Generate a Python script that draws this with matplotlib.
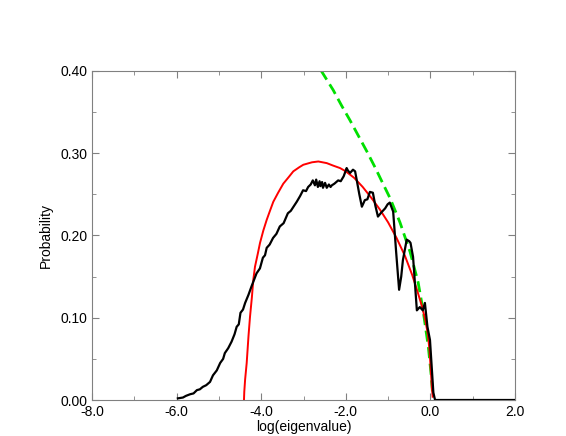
#!/usr/bin/env python3
import matplotlib
matplotlib.use("Agg")
from matplotlib import pyplot as plt
from matplotlib.ticker import MultipleLocator, FormatStrFormatter

plt.rcParams['font.family'] = ['Liberation Sans', 'DejaVu Sans']
plt.rcParams['axes.unicode_minus'] = False

# measured histogram (log eigenvalue, probability)
hist_x = [-5.97, -5.85, -5.78, -5.68, -5.60, -5.52, -5.45, -5.38, -5.30, -5.21,
          -5.14, -5.05, -4.97, -4.90, -4.86, -4.78, -4.70, -4.63, -4.58, -4.53,
          -4.49, -4.43, -4.38, -4.30, -4.23, -4.17, -4.11, -4.03, -3.96, -3.91,
          -3.87, -3.80, -3.72, -3.64, -3.56, -3.47, -3.37, -3.30, -3.16, -3.08,
          -3.01, -2.94, -2.89, -2.83, -2.78, -2.73, -2.70, -2.66, -2.62, -2.60,
          -2.56, -2.54, -2.49, -2.45, -2.40, -2.36, -2.33, -2.27, -2.18, -2.12,
          -2.05, -1.98, -1.95, -1.90, -1.83, -1.78, -1.74, -1.68, -1.62, -1.55,
          -1.49, -1.43, -1.36, -1.30, -1.24, -1.16, -1.07, -1.01, -0.96, -0.88,
          -0.81, -0.74, -0.69, -0.65, -0.56, -0.50, -0.47, -0.41, -0.32, -0.25,
          -0.18, -0.13, -0.07, -0.01, 0.07, 0.11, 2.0]
hist_y = [0.002, 0.003, 0.005, 0.007, 0.008, 0.012, 0.013, 0.016, 0.018, 0.022,
          0.030, 0.036, 0.045, 0.050, 0.057, 0.063, 0.071, 0.080, 0.089, 0.092,
          0.106, 0.110, 0.118, 0.128, 0.138, 0.146, 0.154, 0.160, 0.173, 0.176,
          0.185, 0.189, 0.197, 0.202, 0.211, 0.215, 0.227, 0.230, 0.241, 0.248,
          0.255, 0.254, 0.259, 0.262, 0.267, 0.261, 0.268, 0.259, 0.266, 0.260,
          0.265, 0.258, 0.264, 0.258, 0.262, 0.259, 0.261, 0.263, 0.267, 0.266,
          0.272, 0.282, 0.279, 0.276, 0.280, 0.278, 0.267, 0.250, 0.235, 0.243,
          0.244, 0.253, 0.252, 0.236, 0.223, 0.228, 0.233, 0.238, 0.240, 0.229,
          0.180, 0.134, 0.150, 0.170, 0.195, 0.193, 0.191, 0.174, 0.109, 0.113,
          0.109, 0.118, 0.089, 0.073, 0.009, 0.0, 0.0]

# theoretical density (red)
theo_x = [-4.407, -4.40, -4.38, -4.343, -4.30, -4.265, -4.22, -4.187, -4.147, -4.08,
          -4.028, -3.95, -3.87, -3.80, -3.714, -3.60, -3.478, -3.35, -3.241, -3.10,
          -3.005, -2.80, -2.65, -2.45, -2.30, -2.137, -2.00, -1.80, -1.60, -1.40,
          -1.20, -1.00, -0.80, -0.60, -0.43, -0.30, -0.20, -0.12, -0.06, -0.02,
          0.014, 0.035, 0.054]
theo_y = [0.0, 0.010, 0.025, 0.045, 0.078, 0.101, 0.125, 0.146, 0.162, 0.178,
          0.191, 0.206, 0.219, 0.229, 0.241, 0.252, 0.263, 0.271, 0.278, 0.283,
          0.286, 0.289, 0.290, 0.288, 0.285, 0.282, 0.278, 0.270, 0.259, 0.246,
          0.232, 0.216, 0.197, 0.175, 0.152, 0.131, 0.114, 0.097, 0.080, 0.060,
          0.032, 0.015, 0.004]

# asymptotic curve (green dashed)
asym_x = [-2.59, -2.30, -2.10, -1.90, -1.70, -1.50, -1.30, -1.15, -0.95, -0.72,
          -0.48, -0.29, -0.17, -0.05, 0.01, 0.05]
asym_y = [0.401, 0.377, 0.358, 0.340, 0.321, 0.302, 0.282, 0.266, 0.245, 0.216,
          0.180, 0.143, 0.108, 0.065, 0.035, 0.009]

fig = plt.figure(figsize=(5.66, 4.36), dpi=100)
ax = fig.add_axes([92/566, 36/436, 423/566, 329/436])

ax.plot(asym_x, asym_y, color='#00e000', lw=2, dashes=(4, 2), zorder=2)
ax.plot(theo_x, theo_y, color='#ff0000', lw=1.4, zorder=3)
ax.plot(hist_x, hist_y, color='black', lw=1.6, zorder=4)

ax.set_xlim(-8, 2)
ax.set_ylim(0, 0.4)
ax.xaxis.set_major_locator(MultipleLocator(2))
ax.xaxis.set_minor_locator(MultipleLocator(1))
ax.yaxis.set_major_locator(MultipleLocator(0.1))
ax.yaxis.set_minor_locator(MultipleLocator(0.05))
ax.xaxis.set_major_formatter(FormatStrFormatter('%.1f'))
ax.yaxis.set_major_formatter(FormatStrFormatter('%.2f'))
ax.tick_params(which='both', direction='in', top=True, right=True, color='#808080',
               labelsize=10)
ax.tick_params(which='major', length=5)
ax.tick_params(which='minor', length=3)
for s in ax.spines.values():
    s.set_color('#808080')
    s.set_linewidth(0.8)

ax.set_xlabel('log(eigenvalue)', fontsize=10, labelpad=0.5)
ax.set_ylabel('Probability', fontsize=10, labelpad=5)

fig.savefig('out.png', dpi=100)
